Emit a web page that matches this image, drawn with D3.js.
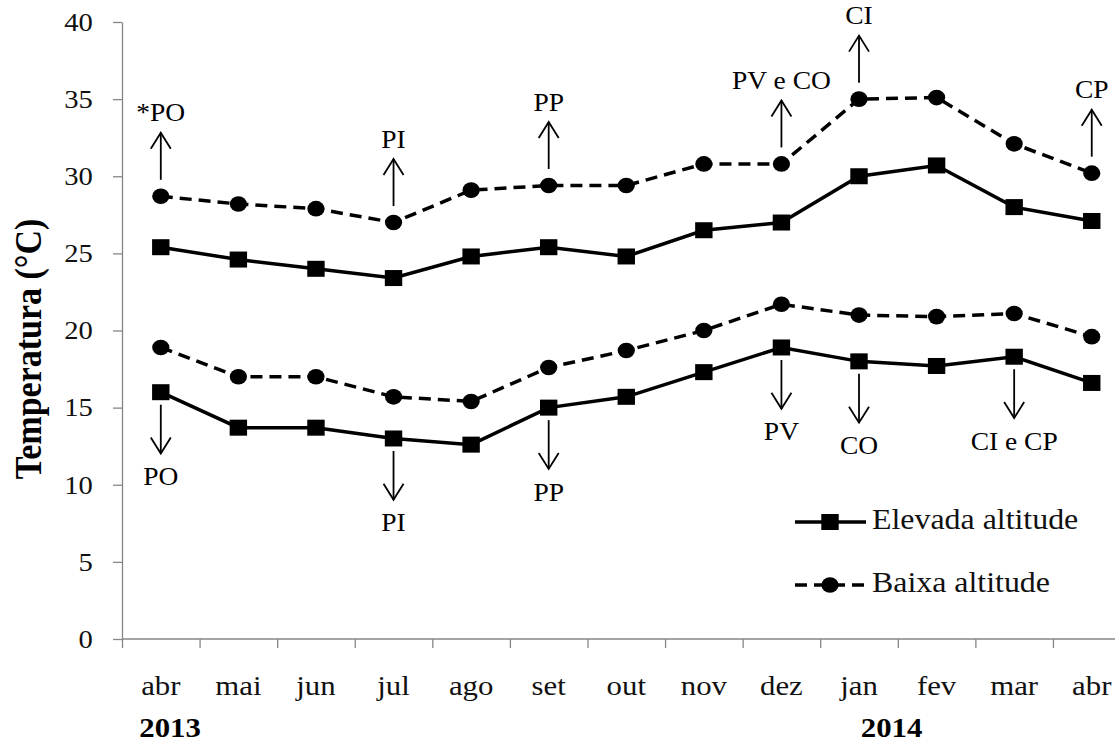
<!DOCTYPE html>
<html><head><meta charset="utf-8">
<script src="https://cdn.jsdelivr.net/npm/d3@7"></script>
<style>
html,body{margin:0;padding:0;background:#fff;}
svg{display:block;}
svg text{font-family:"Liberation Serif","Times New Roman",serif !important;}
</style></head>
<body><svg id="c" width="1115" height="742"></svg>
<script>
const months = ["abr","mai","jun","jul","ago","set","out","nov","dez","jan","fev","mar","abr"];
const years = ["2013","2014"];
const yTicks = [0,5,10,15,20,25,30,35,40];
const elevadaMax = [25.4,24.6,24.0,23.4,24.8,25.4,24.8,26.5,27.0,30.0,30.7,28.0,27.1];
const elevadaMin = [16.0,13.7,13.7,13.0,12.6,15.0,15.7,17.3,18.9,18.0,17.7,18.3,16.6];
const baixaMax   = [28.7,28.2,27.9,27.0,29.1,29.4,29.4,30.8,30.8,35.0,35.1,32.1,30.2];
const baixaMin   = [18.9,17.0,17.0,15.7,15.4,17.6,18.7,20.0,21.7,21.0,20.9,21.1,19.6];
const upNoteIdx = [0,3,5,8,9,12];
const upNoteLabels = ["*PO","PI","PP","PV e CO","CI","CP"];
const downNoteIdx = [0,3,5,8,9,11];
const downNoteLabels = ["PO","PI","PP","PV","CO","CI e CP"];
const legendLabels = ["Elevada altitude","Baixa altitude"];

const SX = 1.1;
const svg = d3.select("#c");
const left = 122, step = 77.58, bottomY = 639, topY = 22;
const idx = d3.range(months.length);
const x = d3.scaleBand().domain(idx).range([left, left + step*months.length]).padding(0);
const xLin = d3.scaleLinear().domain([0, months.length]).range([left, left + step*months.length]);
const y = d3.scaleLinear().domain([0,40]).range([bottomY, topY]);
const cx = i => x(i) + x.bandwidth()/2;
const axisCol = "#868686";

// Y axis
const ya = svg.append("g").attr("transform", `translate(${left},0)`)
  .call(d3.axisLeft(y).tickValues(yTicks).tickSize(9).tickSizeOuter(0).tickPadding(17.5));
ya.attr("font-family", null).attr("font-size", null);
ya.select(".domain").attr("stroke", axisCol).attr("stroke-width", 1.3);
ya.selectAll(".tick line").attr("stroke", axisCol).attr("stroke-width", 1.3);
ya.selectAll(".tick text").each(function(){
  const t = d3.select(this); const tx = +t.attr("x");
  t.attr("x", 0).attr("transform", `translate(${tx*SX},0) scale(${SX},1)`);
}).style("font-size", "26px").attr("fill", "#111");

// X axis line and boundary ticks
const xa = svg.append("g").attr("transform", `translate(0,${bottomY})`)
  .call(d3.axisBottom(xLin).tickValues(d3.range(months.length+1)).tickSize(9).tickSizeOuter(0).tickFormat(""));
xa.select(".domain").remove();
xa.append("line").attr("x1", left).attr("x2", 1115).attr("y1", 0).attr("y2", 0)
  .attr("stroke", axisCol).attr("stroke-width", 1.3);
xa.selectAll(".tick line").attr("stroke", axisCol).attr("stroke-width", 1.3);

// Month labels via band axis
const xl = svg.append("g").attr("transform", `translate(0,${bottomY})`)
  .call(d3.axisBottom(x).tickSize(0).tickFormat(i => months[i]));
xl.attr("font-family", null).attr("font-size", null);
xl.select(".domain").remove();
xl.selectAll(".tick text").attr("dy", null).attr("y", 0)
  .attr("transform", `translate(0,56) scale(${SX},1)`)
  .style("font-size", "28px").attr("fill", "#111");

// Year labels
[[years[0], xLin(0.62)], [years[1], xLin(9.92)]].forEach(([t, px]) => {
  svg.append("text").attr("transform", `translate(${px},737) scale(${SX},1)`)
    .attr("text-anchor", "middle").style("font-size", "28px").attr("font-weight", "bold").text(t);
});

// Y title
svg.append("text").attr("transform", `translate(41,349) scale(${SX},1) rotate(-90)`)
  .attr("text-anchor", "middle").style("font-size", "34px").attr("font-weight", "bold").text("Temperatura (°C)");

// Lines
const line = d3.line().x((d,i) => cx(i)).y(d => y(d));
function drawSeries(vals, dashed, marker) {
  svg.append("path").datum(vals).attr("d", line).attr("fill", "none").attr("stroke", "#000")
    .attr("stroke-width", 3.5).attr("stroke-dasharray", dashed ? "12,7" : null);
  if (marker === "square") {
    svg.append("g").selectAll("rect").data(vals).join("rect")
      .attr("x", (d,i) => cx(i) - 8.7).attr("y", d => y(d) - 8).attr("width", 17.4).attr("height", 16).attr("fill", "#000");
  } else {
    svg.append("g").selectAll("ellipse").data(vals).join("ellipse")
      .attr("cx", (d,i) => cx(i)).attr("cy", d => y(d)).attr("rx", 8.6).attr("ry", 7.8).attr("fill", "#000");
  }
}
drawSeries(baixaMax, true, "circle");
drawSeries(baixaMin, true, "circle");
drawSeries(elevadaMax, false, "square");
drawSeries(elevadaMin, false, "square");

// Annotations
function arrow(px, y1, y2, dir) {
  const g = svg.append("g").attr("stroke", "#000").attr("stroke-width", 1.8).attr("fill", "none");
  g.append("line").attr("x1", px).attr("x2", px).attr("y1", y1).attr("y2", y2);
  const hy = y2 - dir*16;
  g.append("path").attr("d", `M${px-10},${hy} L${px},${y2} L${px+10},${hy}`);
}
upNoteIdx.forEach((i, k) => {
  const px = cx(i), py = y(baixaMax[i]);
  arrow(px, py - 16.5, py - 63.5, -1);
  svg.append("text").attr("transform", `translate(${px},${py-75}) scale(${SX},1)`)
    .attr("text-anchor", "middle").style("font-size", "25px").text(upNoteLabels[k]);
});
downNoteIdx.forEach((i, k) => {
  const px = cx(i), py = y(elevadaMin[i]);
  arrow(px, py + 12.5, py + 61.3, 1);
  svg.append("text").attr("transform", `translate(${px},${py+93}) scale(${SX},1)`)
    .attr("text-anchor", "middle").style("font-size", "25px").text(downNoteLabels[k]);
});

// Legend
const leg = [{label: legendLabels[0], dashed: false, marker: "square", ly: 522},
             {label: legendLabels[1], dashed: true, marker: "circle", ly: 585}];
leg.forEach(l => {
  svg.append("line").attr("x1", 795).attr("x2", 866).attr("y1", l.ly).attr("y2", l.ly)
    .attr("stroke", "#000").attr("stroke-width", 3.5).attr("stroke-dasharray", l.dashed ? "12,7" : null);
  if (l.marker === "square") svg.append("rect").attr("x", 830-8.7).attr("y", l.ly-8).attr("width", 17.4).attr("height", 16);
  else svg.append("ellipse").attr("cx", 830).attr("cy", l.ly).attr("rx", 8.6).attr("ry", 7.8);
  svg.append("text").attr("transform", `translate(872,${l.ly+7}) scale(${SX},1)`)
    .style("font-size", "29px").attr("fill", "#111").text(l.label);
});
</script></body></html>
